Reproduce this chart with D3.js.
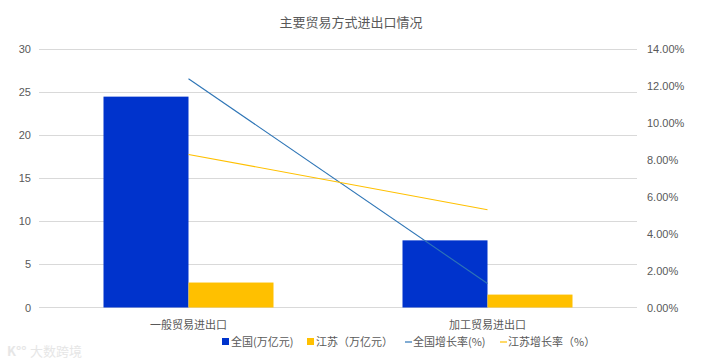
<!DOCTYPE html>
<html><head><meta charset="utf-8">
<script src="https://cdn.jsdelivr.net/npm/d3@7"></script>
<style>body{margin:0;background:#fff;} text{font-family:"Noto Sans CJK SC","Microsoft YaHei",sans-serif;}</style>
</head><body>
<svg id="c" width="703" height="364"></svg>
<script>
const categories = ["一般贸易进出口", "加工贸易进出口"];
const nationalValue = [24.5, 7.8];
const jiangsuValue = [2.9, 1.5];
const nationalGrowth = [12.4, 1.3];
const jiangsuGrowth = [8.3, 5.3];
const leftTicks = [0, 5, 10, 15, 20, 25, 30];
const rightTicks = [0, 2, 4, 6, 8, 10, 12, 14];
const seriesNames = ["全国(万亿元)", "江苏（万亿元）", "全国增长率(%)", "江苏增长率（%）"];

const svg = d3.select("#c");
const L = 39, R = 637, T = 49.3, B = 307.5;
const txt = "#595959";
const cBlue = "#0033CC", cYel = "#FFC000", cLineBlue = "#2E75B6", cLineYel = "#FFC000";

svg.append("rect").attr("width",703).attr("height",364).attr("fill","#fff");

const x = d3.scaleBand().domain(categories).range([L, R]).paddingInner(0).paddingOuter(0);
const yL = d3.scaleLinear().domain([0, 30]).range([B, T]);
const yR = d3.scaleLinear().domain([0, 14]).range([B, T]);

// grid
svg.append("g").selectAll("line").data(leftTicks).join("line")
  .attr("x1", L).attr("x2", R).attr("y1", d => yL(d)).attr("y2", d => yL(d))
  .attr("stroke", "#d9d9d9").attr("stroke-width", 1).attr("shape-rendering","crispEdges");

// left axis
const ax = d3.axisLeft(yL).tickValues(leftTicks).tickSize(0).tickPadding(0);
const gL = svg.append("g").attr("transform", `translate(${L-8},0)`).call(ax);
gL.select(".domain").remove();
gL.selectAll("text").attr("fill", txt).style("font-size","11px").style("font-family","Liberation Sans, Arial, sans-serif");

// right axis
const axR = d3.axisRight(yR).tickValues(rightTicks).tickSize(0).tickPadding(0).tickFormat(d => d.toFixed(2) + "%");
const gR = svg.append("g").attr("transform", `translate(${R+10},0)`).call(axR);
gR.select(".domain").remove();
gR.selectAll("text").attr("fill", txt).style("font-size","11px").style("font-family","Liberation Sans, Arial, sans-serif");

// bars
const bw = 85;
const cx = d => x(d) + x.bandwidth()/2;
svg.append("g").selectAll("rect").data(categories).join("rect")
  .attr("x", d => cx(d) - bw).attr("width", bw)
  .attr("y", (d,i) => yL(nationalValue[i])).attr("height", (d,i) => B - yL(nationalValue[i]))
  .attr("fill", cBlue);
svg.append("g").selectAll("rect").data(categories).join("rect")
  .attr("x", d => cx(d)).attr("width", bw)
  .attr("y", (d,i) => yL(jiangsuValue[i])).attr("height", (d,i) => B - yL(jiangsuValue[i]))
  .attr("fill", cYel);

// lines
const line = d3.line().x(d => d[0]).y(d => yR(d[1]));
svg.append("path").datum(categories.map((c,i)=>[cx(c), nationalGrowth[i]]))
  .attr("d", line).attr("fill","none").attr("stroke", cLineBlue).attr("stroke-width", 1.1);
svg.append("path").datum(categories.map((c,i)=>[cx(c), jiangsuGrowth[i]]))
  .attr("d", line).attr("fill","none").attr("stroke", cLineYel).attr("stroke-width", 1.1);

// category labels
svg.append("g").selectAll("text").data(categories).join("text")
  .attr("x", d => cx(d)).attr("y", 329).attr("text-anchor","middle")
  .attr("fill", txt).style("font-size","11px").text(d => d);

// title
svg.append("text").attr("x", 351).attr("y", 27).attr("text-anchor","middle")
  .attr("fill", txt).style("font-size","13px").text("主要贸易方式进出口情况");

// legend
const lg = svg.append("g").style("font-size","11px");
const items = [
  {type:"rect", color:cBlue, x:222, tx:231},
  {type:"rect", color:cYel, x:307, tx:316},
  {type:"line", color:cLineBlue, x:405, tx:413},
  {type:"line", color:cLineYel, x:500, tx:508}
];
items.forEach((it, i) => {
  if (it.type === "rect") lg.append("rect").attr("x", it.x).attr("y", 338).attr("width", 7).attr("height", 7).attr("fill", it.color);
  else lg.append("line").attr("x1", it.x).attr("x2", it.x+7).attr("y1", 342).attr("y2", 342).attr("stroke", it.color).attr("stroke-width", 1.2);
  lg.append("text").attr("x", it.tx).attr("y", 346).attr("fill", txt).text(seriesNames[i]);
});

// watermark
svg.append("text").attr("x", 30).attr("y", 356).attr("fill", "#e6e6e6").style("font-size","13px").text("大数跨境");
svg.append("text").attr("x", 7).attr("y", 356).attr("fill", "#e6e6e6").style("font-size","13px").style("font-weight","bold").text("K°°");
</script>
</body></html>
